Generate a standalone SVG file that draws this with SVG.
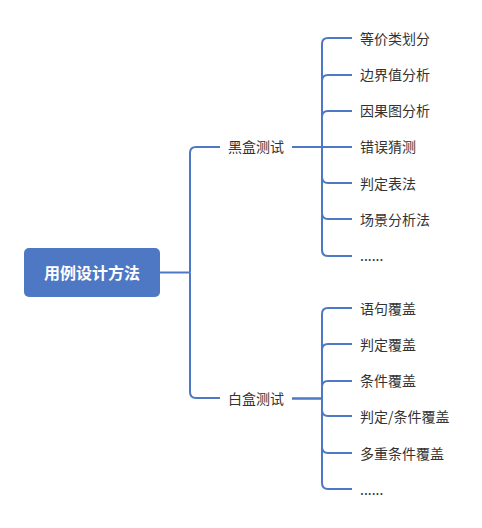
<svg xmlns="http://www.w3.org/2000/svg" width="482" height="528" viewBox="0 0 482 528">
<style>
.ln{fill:none;stroke:#4E78C4;stroke-width:2;stroke-linecap:butt}
.t{font-family:"Noto Sans CJK SC","Noto Sans",sans-serif;font-size:14px;fill:#333;dominant-baseline:central}
.root{font-family:"Noto Sans CJK SC","Noto Sans",sans-serif;font-size:16px;font-weight:bold;fill:#fff;text-anchor:middle;dominant-baseline:central}
</style>
<rect width="482" height="528" fill="#fff"/>
<g id="connectors">
<path class="ln" d="M160,272.5 L190,272.5"/>
<path class="ln" d="M190,272.5 L190,153 Q190,147 196,147 L220,147"/>
<path class="ln" d="M190,272.5 L190,392 Q190,398 196,398 L220,398"/>
<path class="ln" d="M292,147 L322,147"/>
<path class="ln" d="M322,147 L322,44 Q322,38 328,38 L352,38"/>
<path class="ln" d="M322,147 L322,81 Q322,75 328,75 L352,75"/>
<path class="ln" d="M322,147 L322,117 Q322,111 328,111 L352,111"/>
<path class="ln" d="M322,147 L352,147"/>
<path class="ln" d="M322,147 L322,177 Q322,183 328,183 L352,183"/>
<path class="ln" d="M322,147 L322,213 Q322,219 328,219 L352,219"/>
<path class="ln" d="M322,147 L322,250 Q322,256 328,256 L352,256"/>
<path class="ln" d="M292,398.5 L322,398.5" style="stroke-width:2.5"/>
<path class="ln" d="M322,398.5 L322,314 Q322,308 328,308 L352,308"/>
<path class="ln" d="M322,398.5 L322,350 Q322,344 328,344 L352,344"/>
<path class="ln" d="M322,398.5 L322,387 Q322,381 328,381 L352,381"/>
<path class="ln" d="M322,398.5 L322,410 Q322,416 328,416 L352,416"/>
<path class="ln" d="M322,398.5 L322,447 Q322,453 328,453 L352,453"/>
<path class="ln" d="M322,398.5 L322,483 Q322,489 328,489 L352,489"/>
</g>
<g id="root">
<rect x="24" y="248" width="136" height="49" rx="5" fill="#4E78C4"/>
<text class="root" x="92" y="271.5">用例设计方法</text>
</g>
<g id="blackbox"><text class="t" x="228" y="146">黑盒测试</text></g>
<g id="whitebox"><text class="t" x="228" y="397.5">白盒测试</text></g>
<g id="b1"><text class="t" x="360" y="37.5">等价类划分</text></g>
<g id="b2"><text class="t" x="360" y="74">边界值分析</text></g>
<g id="b3"><text class="t" x="360" y="110">因果图分析</text></g>
<g id="b4"><text class="t" x="360" y="146">错误猜测</text></g>
<g id="b5"><text class="t" x="360" y="182.5">判定表法</text></g>
<g id="b6"><text class="t" x="360" y="218.5">场景分析法</text></g>
<g id="b7"><text class="t" x="360" y="255">......</text></g>
<g id="w1"><text class="t" x="360" y="307.5">语句覆盖</text></g>
<g id="w2"><text class="t" x="360" y="344">判定覆盖</text></g>
<g id="w3"><text class="t" x="360" y="380">条件覆盖</text></g>
<g id="w4"><text class="t" x="360" y="416">判定/条件覆盖</text></g>
<g id="w5"><text class="t" x="360" y="452.5">多重条件覆盖</text></g>
<g id="w6"><text class="t" x="360" y="488.5">......</text></g>
</svg>
